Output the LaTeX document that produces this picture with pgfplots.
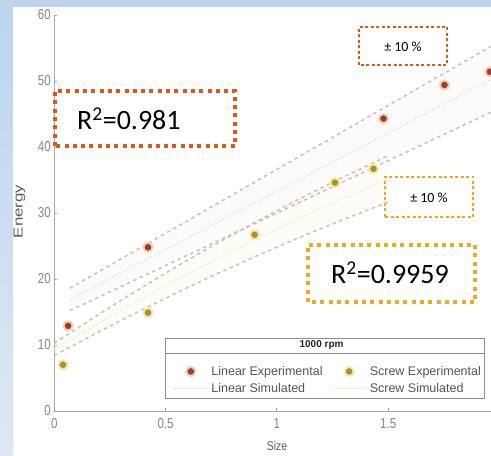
\documentclass[border=0pt]{standalone}
\usepackage{fontspec}
\setmainfont{Liberation Sans}
\newfontfamily\calibri{Carlito}
\usepackage{pgfplots}
\usepackage{pgfplotstable}
\pgfplotsset{compat=1.18}

\definecolor{linexpcore}{HTML}{94402C}
\definecolor{linexphalo}{HTML}{F3CDBB}
\definecolor{scrcore}{HTML}{A19339}
\definecolor{scrhalo}{HTML}{F8E9A0}
\definecolor{linsim}{HTML}{F5DCD0}
\definecolor{scrsim}{HTML}{F6EAC0}
\definecolor{boundgray}{HTML}{C4C4C4}
\definecolor{boundwarm}{HTML}{D8BCAE}
\definecolor{boxred}{HTML}{DA5A1B}
\definecolor{boxorange}{HTML}{EBAA1F}
\definecolor{tickgray}{HTML}{858585}
\definecolor{labelgray}{HTML}{5E5E5E}
\definecolor{axisgray}{HTML}{A8A8A8}
\definecolor{legendframe}{HTML}{8C8C8C}
\definecolor{legendtext}{HTML}{555555}
\definecolor{bgtop}{HTML}{BDD4ED}
\definecolor{bgbottom}{HTML}{DEE8F4}

% measured points
\pgfplotstableread{
x     y
0.062 12.9
0.421 24.8
1.479 44.3
1.753 49.4
1.957 51.4
}\linexp
\pgfplotstableread{
x     y
0.039 7.0
0.421 14.9
0.900 26.7
1.261 34.6
1.434 36.7
}\screwexp
% simulated lines with +/-10 % bounds
\pgfplotstableread{
x    sim  up   lo
0.07 16.9 18.6 15.2
1.97 50.4 55.4 45.4
}\linsimtab
\pgfplotstableread{
x    sim   up    lo
0.00  9.35 10.29  8.42
0.30 15.25 16.78 13.73
0.60 20.79 22.87 18.71
0.90 25.95 28.55 23.36
1.20 30.74 33.81 27.67
1.50 35.16 38.68 31.64
}\screwsimtab

\begin{document}
\begin{tikzpicture}[x=1pt,y=1pt]
\useasboundingbox (0,0) rectangle (491,456);
\clip (0,0) rectangle (491,456);
\shade[top color=bgtop, bottom color=bgbottom] (0,0) rectangle (491,456);
\fill[white] (12.5,0) rectangle (491,449);

\begin{axis}[
  at={(54.3pt,45pt)}, anchor=origin,
  scale only axis, width=436.7pt, height=396pt,
  xmin=0, xmax=1.962, ymin=0, ymax=60,
  axis lines*=left,
  axis line style={draw=axisgray, line width=0.9pt},
  xtick={0,0.5,1,1.5}, ytick={0,10,...,60},
  tick style={draw=axisgray, line width=0.8pt},
  major tick length=3pt, tick align=inside,
  /pgf/number format/assume math mode=true,
  tick label style={font=\fontsize{11.5}{12}\selectfont, text=tickgray},
  xticklabel={\scalebox{1}[1.25]{\pgfmathprintnumber{\tick}}},
  yticklabel={\scalebox{1}[1.25]{\pgfmathprintnumber{\tick}}},
  xticklabel style={yshift=-4pt},
  xlabel={\scalebox{1}[1.2]{Size}},
  xlabel style={at={(axis description cs:0.51,-0.088)}, anchor=center,
    font=\fontsize{10.5}{12}\selectfont, text=labelgray},
  ylabel={\scalebox{1.3}[1]{Energy}},
  ylabel style={at={(axis description cs:-0.0795,0.504)}, anchor=center,
    font=\fontsize{13}{14}\selectfont, text=labelgray},
  legend columns=2,
  legend cell align=left,
  legend image code/.code={\draw[mark repeat=2,mark phase=2,#1]
    plot coordinates {(0pt,0pt) (18pt,0pt) (36pt,0pt)};},
  legend style={at={(axis description cs:0.2695,0.1187)}, anchor=north west,
    draw=none, fill=none, font=\fontsize{12.5}{13}\selectfont, text=legendtext,
    inner sep=0pt, row sep=2.5pt,
    nodes={inner sep=2pt},
    /tikz/every even column/.append style={column sep=6pt}},
  linexpstyle/.style={only marks, mark=*, mark size=4.5pt,
    mark options={fill=linexpcore, draw=linexphalo, line width=2pt}},
  scrstyle/.style={only marks, mark=*, mark size=4.5pt,
    mark options={fill=scrcore, draw=scrhalo, line width=2pt}},
  boundline/.style={line width=1.5pt, dash pattern=on 3.5pt off 3.5pt},
]
% faint bands between the +/-10 % bounds
\addplot[fill=linsim, fill opacity=0.1, draw=none, forget plot]
  coordinates {(0.07,18.6) (1.97,55.4) (1.97,45.4) (0.07,15.2)} -- cycle;
\addplot[fill=scrsim, fill opacity=0.1, draw=none, forget plot]
  coordinates {(0.00,10.29) (0.30,16.78) (0.60,22.87) (0.90,28.55) (1.20,33.81) (1.50,38.68)
               (1.50,31.64) (1.20,27.67) (0.90,23.36) (0.60,18.71) (0.30,13.73) (0.00,8.42)} -- cycle;

% bounds
\addplot[boundline, draw=boundgray, forget plot] table[x=x,y=up] {\linsimtab};
\addplot[boundline, draw=boundgray, forget plot] table[x=x,y=lo] {\linsimtab};
\addplot[boundline, draw=boundwarm, smooth, forget plot] table[x=x,y=up] {\screwsimtab};
\addplot[boundline, draw=boundgray, smooth, forget plot] table[x=x,y=lo] {\screwsimtab};

% simulated
\addplot[draw=linsim, line width=1.4pt, dash pattern=on 1.5pt off 2.5pt, forget plot]
  table[x=x,y=sim] {\linsimtab};
\addplot[draw=scrsim, line width=1.4pt, dash pattern=on 1.5pt off 2.5pt, smooth, forget plot]
  table[x=x,y=sim] {\screwsimtab};

% experimental
\addplot[linexpstyle, forget plot] table[x=x,y=y] {\linexp};
\addplot[scrstyle, forget plot] table[x=x,y=y] {\screwexp};

% legend frame and title
\fill[white] (axis description cs:0.2535,0.0328) rectangle (axis description cs:0.986,0.1843);
\draw[legendframe, line width=0.8pt] (axis description cs:0.2535,0.0328) rectangle (axis description cs:0.986,0.1843);
\draw[legendframe, line width=0.8pt] (axis description cs:0.2535,0.1465) -- (axis description cs:0.986,0.1465);
\node[font=\bfseries\fontsize{10}{11}\selectfont, text=black!85] at (axis description cs:0.612,0.1654) {1000 rpm};

\addlegendimage{linexpstyle}
\addlegendentry{Linear Experimental}
\addlegendimage{scrstyle}
\addlegendentry{Screw Experimental}
\addlegendimage{draw=linsim!70, line width=1.2pt}
\addlegendentry{Linear Simulated}
\addlegendimage{draw=scrsim!70, line width=1.2pt}
\addlegendentry{Screw Simulated}
\end{axis}

% annotation boxes
\draw[boxred, line width=4pt, dash pattern=on 4pt off 4.3pt] (55,310) rectangle (235,365);
\node[anchor=base west, inner sep=0pt, font=\calibri\fontsize{28}{30}\selectfont] at (77,326) {R\textsuperscript{2}=0.981};
\draw[boxorange, line width=4pt, dash pattern=on 4pt off 4.3pt] (308,154) rectangle (475,211);
\node[anchor=base west, inner sep=0pt, font=\calibri\fontsize{28}{30}\selectfont] at (331,172.7) {R\textsuperscript{2}=0.9959};

\draw[boxred, line width=1.2pt, dash pattern=on 3pt off 2.5pt] (359,391) rectangle (447,429);
\node[font=\calibri\fontsize{14}{16}\selectfont] at (403,409) {± 10 \%};
\draw[boxorange, line width=1.2pt, dash pattern=on 3pt off 2.5pt] (385,239) rectangle (473,279);
\node[font=\calibri\fontsize{14}{16}\selectfont] at (429,258) {± 10 \%};
\end{tikzpicture}
\end{document}
